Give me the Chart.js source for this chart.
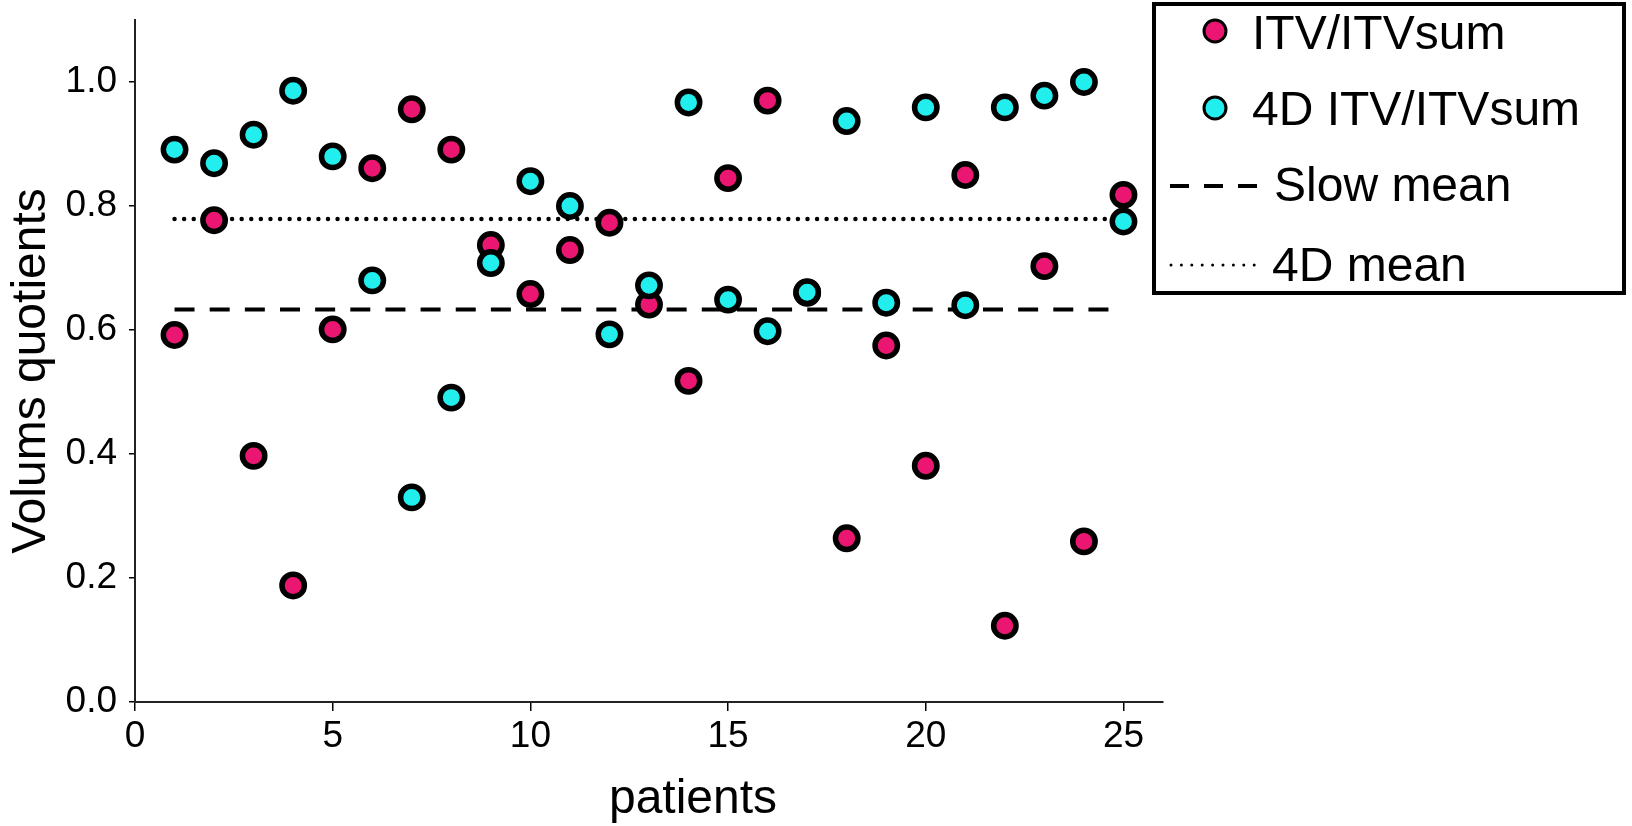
<!DOCTYPE html>
<html>
<head>
<meta charset="utf-8">
<title>Volums quotients</title>
<script src="https://cdn.jsdelivr.net/npm/chart.js@4.4.1/dist/chart.umd.min.js"></script>
<style>
  html, body { margin: 0; padding: 0; background: #fff; }
  #wrap { position: relative; width: 1632px; height: 826px; }
</style>
</head>
<body>
<div id="wrap"><canvas id="chart"></canvas></div>
<script>
const patients = [1, 2, 3, 4, 5, 6, 7, 8, 9, 10, 11, 12, 13, 14, 15, 16, 17, 18, 19, 20, 21, 22, 23, 24, 25];
const itvRatio = [0.592, 0.777, 0.397, 0.188, 0.601, 0.861, 0.956, 0.891, 0.737, 0.658, 0.729, 0.773, 0.641, 0.518, 0.845, 0.970, 0.660, 0.264, 0.575, 0.381, 0.850, 0.123, 0.703, 0.259, 0.818];
const itv4dRatio = [0.891, 0.869, 0.915, 0.986, 0.880, 0.680, 0.330, 0.491, 0.708, 0.840, 0.800, 0.593, 0.672, 0.967, 0.649, 0.598, 0.661, 0.937, 0.644, 0.959, 0.640, 0.959, 0.978, 1.000, 0.775];
const slowMean = 0.633;
const fourDMean = 0.779;
const xTicks = [0, 5, 10, 15, 20, 25];
const yTicks = [0, 0.2, 0.4, 0.6, 0.8, 1.0];
const seriesLabels = ["ITV/ITVsum", "4D ITV/ITVsum", "Slow mean", "4D mean"];

const FONT = "'Liberation Sans', Arial, Helvetica, sans-serif";
const PINK = "#ea1672";
const CYAN = "#22eeee";

Chart.defaults.font.family = FONT;
Chart.defaults.color = "#000";

const toPoints = (ys) => patients.map((p, i) => ({ x: p, y: ys[i] }));
const meanLine = (v) => [{ x: patients[0], y: v }, { x: patients[patients.length - 1], y: v }];

// axis titles + legend box drawn on the canvas
const overlay = {
  id: "overlay",
  afterDraw(chart) {
    const ctx = chart.ctx;
    ctx.save();
    ctx.fillStyle = "#000";
    ctx.font = "48px " + FONT;

    ctx.textAlign = "center";
    ctx.textBaseline = "alphabetic";
    ctx.fillText("patients", 693, 813);

    ctx.save();
    ctx.translate(45, 371);
    ctx.rotate(-Math.PI / 2);
    ctx.fillText("Volums quotients", 0, 0);
    ctx.restore();

    // legend
    ctx.lineWidth = 4;
    ctx.strokeStyle = "#000";
    ctx.strokeRect(1154, 4, 470, 289);

    ctx.textAlign = "left";
    const markers = [[31, PINK, 49], [108, CYAN, 125]];
    markers.forEach(([y, color, base], i) => {
      ctx.beginPath();
      ctx.arc(1215, y, 11, 0, Math.PI * 2);
      ctx.fillStyle = color;
      ctx.fill();
      ctx.lineWidth = 3;
      ctx.strokeStyle = "#000";
      ctx.stroke();
      ctx.fillStyle = "#000";
      ctx.fillText(seriesLabels[i], 1252, base);
    });

    ctx.strokeStyle = "#000";
    ctx.lineWidth = 4;
    ctx.setLineDash([19, 15]);
    ctx.beginPath();
    ctx.moveTo(1170, 186);
    ctx.lineTo(1257, 186);
    ctx.stroke();
    ctx.fillText(seriesLabels[2], 1274, 201);

    ctx.lineWidth = 3;
    ctx.lineCap = "round";
    ctx.setLineDash([0, 10.4]);
    ctx.beginPath();
    ctx.moveTo(1171, 265);
    ctx.lineTo(1255, 265);
    ctx.stroke();
    ctx.setLineDash([]);
    ctx.fillText(seriesLabels[3], 1272, 281);
    ctx.restore();
  },
};

new Chart(document.getElementById("chart"), {
  type: "scatter",
  data: {
    datasets: [
      {
        label: seriesLabels[1],
        data: toPoints(itv4dRatio),
        backgroundColor: CYAN,
        borderColor: "#000",
        borderWidth: 5.5,
        pointRadius: 11.2,
        order: 0,
      },
      {
        label: seriesLabels[0],
        data: toPoints(itvRatio),
        backgroundColor: PINK,
        borderColor: "#000",
        borderWidth: 5.5,
        pointRadius: 11.2,
        order: 1,
      },
      {
        label: seriesLabels[2],
        data: meanLine(slowMean),
        showLine: true,
        borderColor: "#000",
        borderWidth: 4,
        borderDash: [20, 15.15],
        pointRadius: 0,
        order: 2,
      },
      {
        label: seriesLabels[3],
        data: meanLine(fourDMean),
        showLine: true,
        borderColor: "#000",
        borderWidth: 4.5,
        borderDash: [0, 9.59],
        borderCapStyle: "round",
        pointRadius: 0,
        order: 3,
      },
    ],
  },
  options: {
    responsive: true,
    maintainAspectRatio: false,
    animation: false,
    layout: { padding: { left: 0, top: 20, right: 469, bottom: 0 } },
    plugins: {
      legend: { display: false },
      tooltip: { enabled: false },
    },
    scales: {
      x: {
        type: "linear",
        min: 0,
        max: 26,
        afterBuildTicks: (s) => { s.ticks = xTicks.map((v) => ({ value: v })); },
        afterFit: (s) => { s.height = 124; s.paddingLeft = 0; s.paddingRight = 0; },
        grid: { drawOnChartArea: false, drawTicks: true, tickLength: 9, color: "#000", lineWidth: 1.5 },
        border: { display: true, color: "#222", width: 2 },
        ticks: { color: "#000", font: { size: 37 }, padding: 4, maxRotation: 0, callback: (v) => String(v) },
      },
      y: {
        min: 0,
        max: 1.1,
        afterBuildTicks: (s) => { s.ticks = yTicks.map((v) => ({ value: v })); },
        afterFit: (s) => { s.width = 135; s.paddingTop = 0; s.paddingBottom = 0; },
        grid: { drawOnChartArea: false, drawTicks: true, tickLength: 6, color: "#000", lineWidth: 1.5 },
        border: { display: true, color: "#222", width: 2 },
        ticks: { color: "#000", font: { size: 37 }, padding: 12, callback: (v) => v.toFixed(1) },
      },
    },
  },
  plugins: [overlay],
});
</script>
</body>
</html>
